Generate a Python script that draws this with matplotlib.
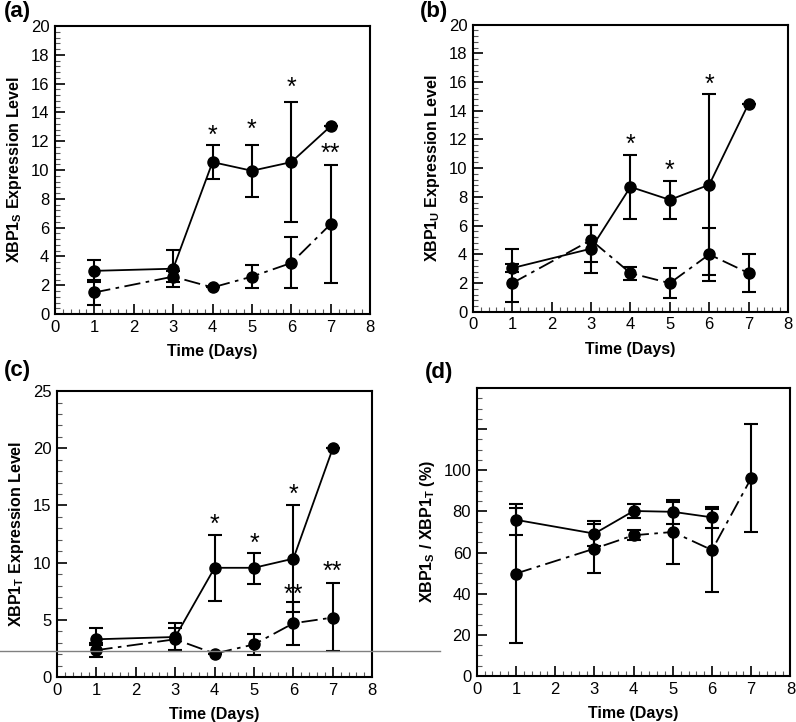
import numpy as np
import matplotlib.pyplot as plt
from matplotlib.ticker import MultipleLocator, FixedLocator
from matplotlib.lines import Line2D

plt.rcParams['font.family'] = ['Liberation Sans', 'DejaVu Sans']
plt.rcParams['mathtext.fontset'] = 'custom'
plt.rcParams['mathtext.rm'] = 'Liberation Sans:bold'
plt.rcParams['mathtext.bf'] = 'Liberation Sans:bold'

days = [1, 3, 4, 5, 6, 7]

# (a) XBP1s
a_solid = [3.0, 3.15, 10.55, 9.95, 10.55, 13.05]
a_solid_lo = [0.75, 1.3, 1.2, 1.8, 4.15, 0.0]
a_solid_hi = [0.75, 1.3, 1.2, 1.8, 4.2, 0.0]
a_dash = [1.5, 2.6, 1.85, 2.6, 3.55, 6.25]
a_dash_lo = [0.9, 0.4, 0.0, 0.82, 1.77, 4.1]
a_dash_hi = [0.9, 0.4, 0.0, 0.8, 1.77, 4.1]
a_stars = [(4, 12.4, '*'), (5, 12.8, '*'), (6, 15.7, '*'), (7, 11.1, '**')]

# (b) XBP1u
b_solid = [3.05, 4.4, 8.7, 7.8, 8.85, 14.5]
b_solid_lo = [0.25, 0.95, 2.25, 1.3, 6.25, 0.0]
b_solid_hi = [1.3, 1.65, 2.25, 1.3, 6.3, 0.0]
b_dash = [2.0, 5.0, 2.7, 2.0, 4.0, 2.7]
b_dash_lo = [1.3, 2.3, 0.45, 1.05, 1.85, 1.3]
b_dash_hi = [1.3, 1.05, 0.45, 1.05, 1.85, 1.3]
b_stars = [(4, 11.6, '*'), (5, 9.85, '*'), (6, 15.8, '*')]

# (c) XBP1t
c_solid = [3.3, 3.5, 9.55, 9.55, 10.35, 20.0]
c_solid_lo = [0.5, 1.2, 2.9, 1.4, 4.65, 0.0]
c_solid_hi = [1.0, 1.25, 2.9, 1.3, 4.65, 0.0]
c_dash = [2.35, 3.3, 2.05, 2.85, 4.7, 5.2]
c_dash_lo = [0.6, 0.95, 0.0, 0.95, 1.9, 2.95]
c_dash_hi = [0.6, 0.95, 0.0, 0.9, 1.85, 3.0]
c_stars = [(4, 13.3, '*'), (5, 11.6, '*'), (6, 15.9, '*'), (6, 7.2, '**'), (7, 9.2, '**')]

# (d) XBP1s / XBP1t (%)
d_days_solid = [1, 3, 4, 5, 6]
d_solid = [75.9, 69.2, 80.2, 79.8, 77.1]
d_solid_err = [7.6, 6.1, 3.4, 5.9, 5.2]
d_dash = [49.8, 61.9, 68.4, 70.0, 61.2, 96.2]
d_dash_lo = [33.6, 11.8, 2.4, 15.8, 20.4, 26.0]
d_dash_hi = [31.8, 11.9, 2.5, 14.8, 20.0, 26.2]

dashdot = (0, (9, 3, 2, 3))


def draw(ax, xs_s, ys_s, err_s, xs_d, ys_d, err_d):
    ax.errorbar(xs_s, ys_s, yerr=err_s, color='black', lw=1.3, marker='o',
                ms=8, capsize=5, capthick=1.5, elinewidth=1.5, zorder=3)
    ax.errorbar(xs_d, ys_d, yerr=err_d, color='black', lw=1.3, ls=dashdot,
                marker='o', ms=8, capsize=5, capthick=1.5, elinewidth=1.5, zorder=3)


def style(ax, ymax, ymajor, yminor, ylabel):
    ax.set_xlim(0, 8)
    ax.set_ylim(0, ymax)
    ax.xaxis.set_major_locator(MultipleLocator(1))
    ax.xaxis.set_minor_locator(MultipleLocator(0.2))
    ax.yaxis.set_major_locator(MultipleLocator(ymajor))
    ax.yaxis.set_minor_locator(MultipleLocator(yminor))
    ax.tick_params(which='both', direction='in', top=False, right=False,
                   labelsize=12, width=1.2)
    ax.tick_params(which='major', length=7, pad=4)
    ax.tick_params(which='minor', length=3.5, width=0.8, color='0.35')
    for s in ax.spines.values():
        s.set_linewidth(1.5)
    ax.set_xlabel('Time (Days)', fontsize=11.5, fontweight='bold', labelpad=7)
    ax.set_ylabel(ylabel, fontsize=11.5, fontweight='bold', labelpad=5)


def stars(ax, items):
    for x, y, t in items:
        ax.text(x, y, t, ha='center', va='center', fontsize=18)


fig = plt.figure(figsize=(7.96, 7.22), dpi=100)
ax_a = fig.add_axes([0.069, 0.565, 0.396, 0.399])
ax_b = fig.add_axes([0.594, 0.568, 0.396, 0.398])
ax_c = fig.add_axes([0.0716, 0.0623, 0.396, 0.396])
ax_d = fig.add_axes([0.599, 0.0637, 0.394, 0.399])

draw(ax_a, days, a_solid, [a_solid_lo, a_solid_hi], days, a_dash, [a_dash_lo, a_dash_hi])
style(ax_a, 20, 2, 0.4, r'XBP1$_{\mathrm{S}}$ Expression Level')
stars(ax_a, a_stars)

draw(ax_b, days, b_solid, [b_solid_lo, b_solid_hi], days, b_dash, [b_dash_lo, b_dash_hi])
style(ax_b, 20, 2, 0.4, r'XBP1$_{\mathrm{U}}$ Expression Level')
stars(ax_b, b_stars)

draw(ax_c, days, c_solid, [c_solid_lo, c_solid_hi], days, c_dash, [c_dash_lo, c_dash_hi])
style(ax_c, 25, 5, 1, r'XBP1$_{\mathrm{T}}$ Expression Level')
stars(ax_c, c_stars)

draw(ax_d, d_days_solid, d_solid, d_solid_err, days, d_dash, [d_dash_lo, d_dash_hi])
style(ax_d, 140, 20, 5, r'XBP1$_{\mathrm{S}}$ / XBP1$_{\mathrm{T}}$ (%)')
ax_d.yaxis.set_major_locator(FixedLocator([0, 20, 40, 60, 80, 100, 120]))
ax_d.set_yticklabels(['0', '20', '40', '60', '80', '100', ''])

for lab, x, y in [('(a)', 0.005, 0.999), ('(b)', 0.528, 0.999),
                  ('(c)', 0.005, 0.501), ('(d)', 0.534, 0.498)]:
    fig.text(x, y, lab, fontsize=16, fontweight='bold', ha='left', va='top')

# thin grey scan line crossing panel (c)
fig.add_artist(Line2D([0, 0.553], [0.0983, 0.0983], color='0.5', lw=1))

fig.savefig('out.png', dpi=100)
